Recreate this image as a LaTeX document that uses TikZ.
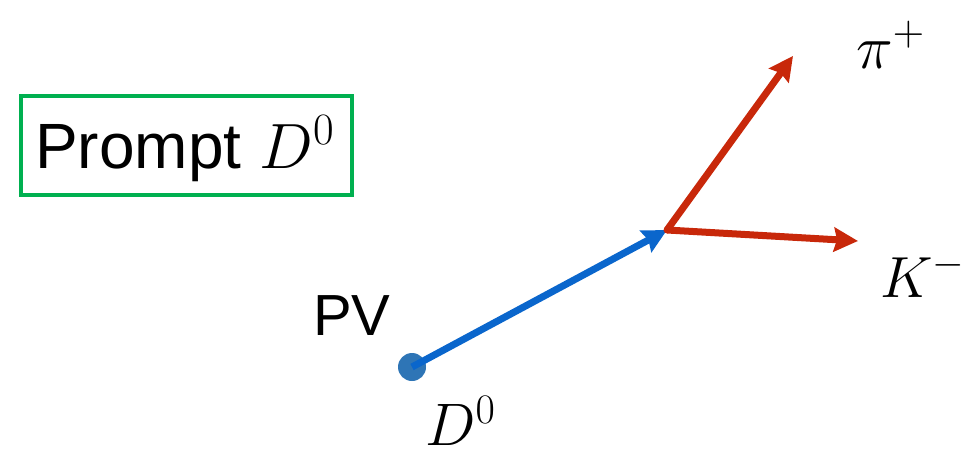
\documentclass[tikz,border=0pt]{standalone}
\usepackage{fix-cm}
\usepackage{fontspec}
\setmainfont{Liberation Sans}
\usetikzlibrary{arrows.meta}
\definecolor{boxgreen}{RGB}{0,176,80}
\definecolor{dotblue}{RGB}{46,117,182}
\definecolor{lineblue}{RGB}{10,102,204}
\definecolor{trackred}{RGB}{200,40,10}
\tikzset{
  lbl/.style={inner sep=0pt, anchor=base west},
  track/.style={line width=7pt, -{Stealth[length=24pt,width=24pt,inset=3pt]}},
}
\begin{document}
\begin{tikzpicture}[x=1pt,y=-1pt]
\useasboundingbox (0,0) rectangle (967,458);
% box
\draw[boxgreen, line width=4pt] (21,96) rectangle (352,194.5);
\node[lbl, font=\fontsize{64}{70}\selectfont] (prompt) at (35,168) {Prompt $D^0$};
% PV
\node[lbl, font=\fontsize{58}{62}\selectfont] (pvlbl) at (313,335) {PV};
\node[circle, fill=dotblue, minimum size=28pt, inner sep=0pt] (pv) at (412,367) {};
\coordinate (v) at (667,230);
\coordinate (pitip) at (793,56);
\coordinate (ktip) at (858,241);
\draw[track, lineblue] (pv.center) -- (v);
\draw[track, trackred, line cap=round] (v) -- (pitip);
\draw[track, trackred] (v) -- (ktip);
% labels
\node[lbl, font=\fontsize{62}{66}\selectfont] (pilbl) at (856,68) {$\pi^+$};
\node[lbl, font=\fontsize{58}{62}\selectfont] (klbl) at (880,297) {$K^-$};
\node[lbl, font=\fontsize{60}{64}\selectfont] (dlbl) at (425,445) {$D^0$};
\end{tikzpicture}
\end{document}
